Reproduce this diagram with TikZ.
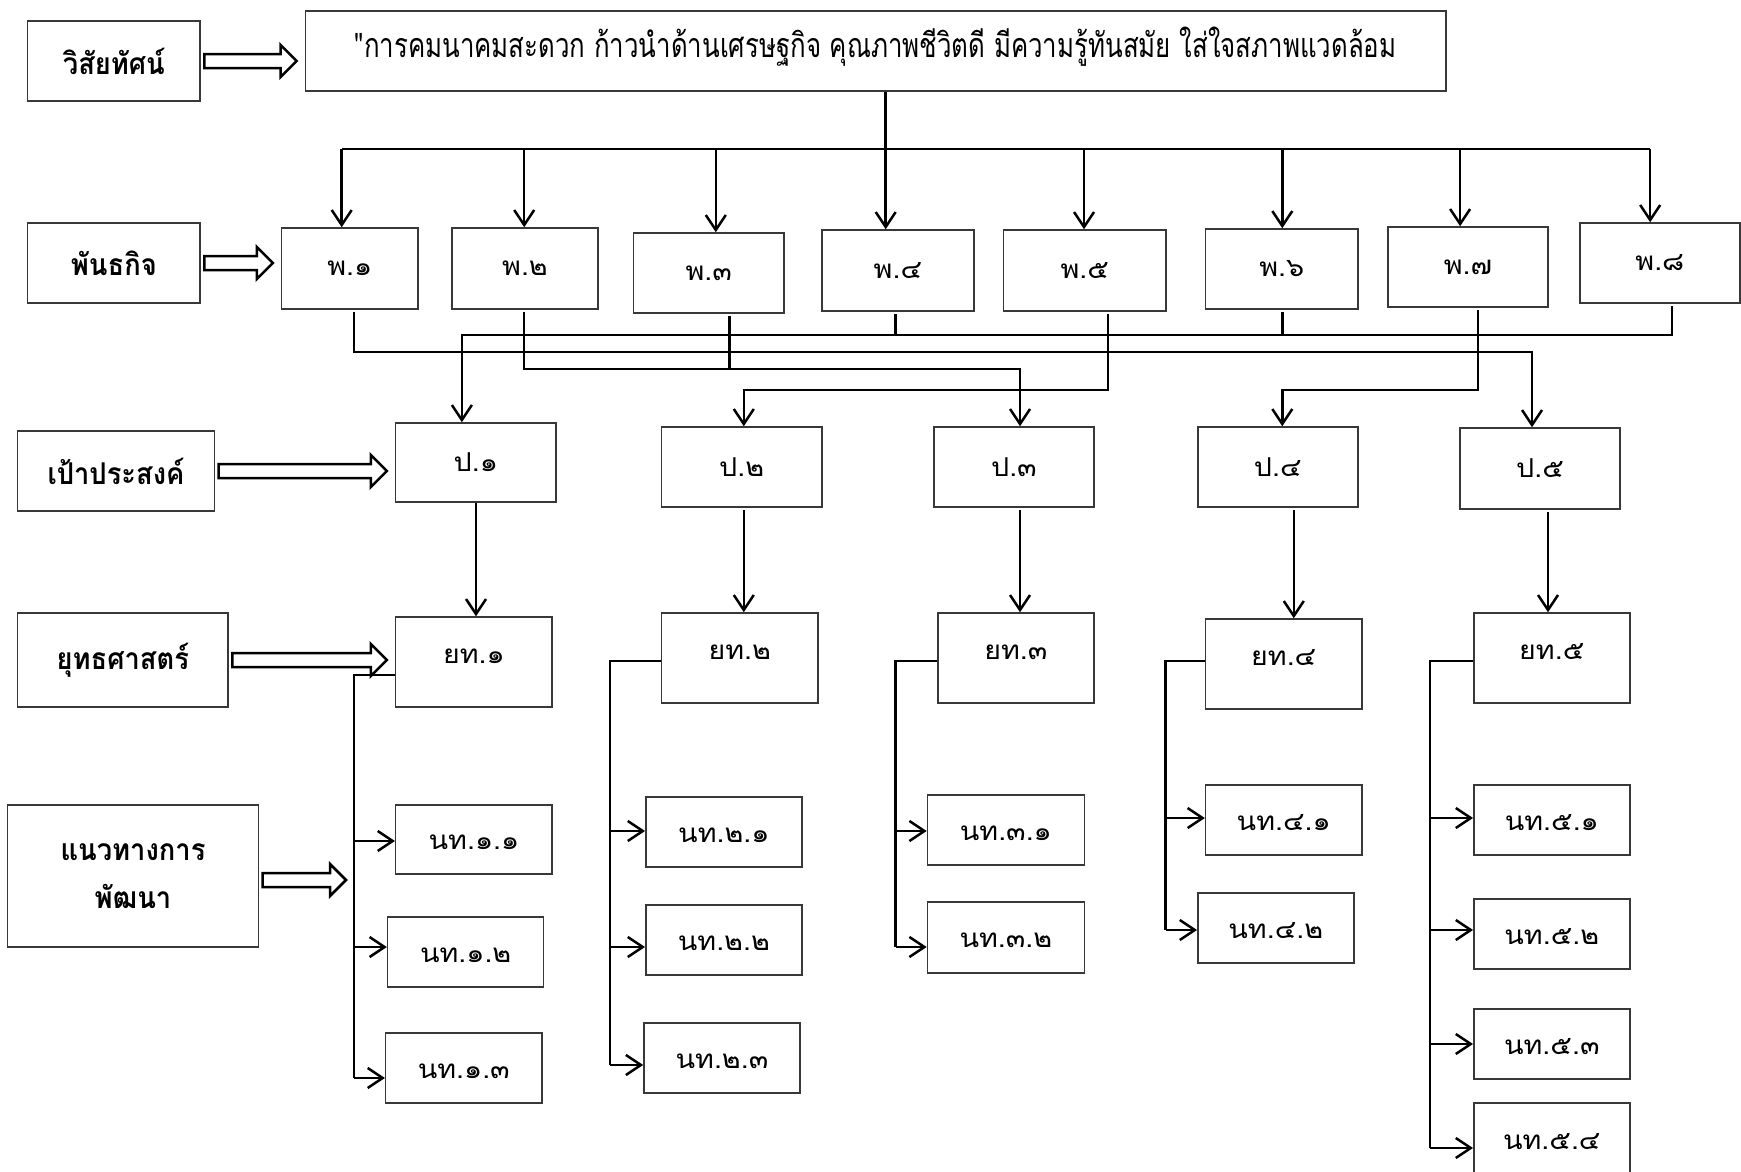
\documentclass[tikz,border=0pt]{standalone}
\usepackage{fontspec}
\newfontfamily\thaifont[Script=Thai, FakeStretch=1.1]{Loma}
\newfontfamily\visfont[Script=Thai, FakeStretch=0.76]{Loma}
\newfontfamily\hdfont[Script=Thai, FakeStretch=0.91]{Loma}
\usetikzlibrary{arrows.meta,calc}
\tikzset{
  box/.style={draw=black!78, line width=1.5pt, inner sep=0pt, fill=white,
    font=\thaifont\fontsize{26}{30}\selectfont},
  pbox/.style={box},
  ybox/.style={box, text height=15pt, text depth=12.4pt},
  vbox/.style={box, font=\visfont\fontsize{34}{40}\selectfont, text height=31pt, text depth=18pt},
  nbox/.style={box, text height=21pt, text depth=0.4pt},
  lbl/.style={box, align=center, font=\hdfont\bfseries\fontsize{30}{48}\selectfont},
  conn/.style={line width=2.5pt, black},
  arr/.style={conn, -{Straight Barb[length=15pt,width=20pt,line width=2.5pt]}},
  blockarrow/.style={draw=black, line width=2.5pt, fill=white, line join=miter,
    to path={let \p1=(\tikztostart), \p2=(\tikztotarget) in
      (\x1+3.5pt,\y1+7pt) -- (\x2-24pt,\y1+7pt) -- (\x2-24pt,\y1+16pt) -- (\x2-8pt,\y1)
      -- (\x2-24pt,\y1-16pt) -- (\x2-24pt,\y1-7pt) -- (\x1+3.5pt,\y1-7pt) -- cycle}},
}
\begin{document}
\begin{tikzpicture}[x=1pt,y=-1pt]
\fill[white] (0,0) rectangle (1741,1171);
\useasboundingbox (0,0) rectangle (1741,1171);

% left labels
\node[lbl, minimum width=172.5, minimum height=80] (lvis) at (113.9,61) {วิสัยทัศน์};
\node[lbl, minimum width=172.5, minimum height=80] (lmis) at (113.9,263) {พันธกิจ};
\node[lbl, minimum width=196.7, minimum height=80] (lgoal) at (115.95,471) {เป้าประสงค์};
\node[lbl, minimum width=210.5, minimum height=94] (lstr) at (122.85,660) {ยุทธศาสตร์};
\node[lbl, minimum width=250.6, minimum height=142] (ldev) at (133,876) {แนวทางการ\\พัฒนา};

% vision
\node[vbox, minimum width=1140.6, minimum height=80] (vision) at (875.7,51)
  {"การคมนาคมสะดวก ก้าวนำด้านเศรษฐกิจ คุณภาพชีวิตดี มีความรู้ทันสมัย ใส่ใจสภาพแวดล้อม};

% missions
\node[pbox, minimum width=136.3, minimum height=81] (p1) at (349.8,268.5) {พ.๑};
\node[pbox, minimum width=146.2, minimum height=81] (p2) at (525,268.5) {พ.๒};
\node[pbox, minimum width=150.4, minimum height=80] (p3) at (708.8,273) {พ.๓};
\node[pbox, minimum width=152.3, minimum height=81] (p4) at (897.95,270.5) {พ.๔};
\node[pbox, minimum width=162.3, minimum height=81] (p5) at (1084.75,270.5) {พ.๕};
\node[pbox, minimum width=152.3, minimum height=80] (p6) at (1281.75,269) {พ.๖};
\node[pbox, minimum width=160.1, minimum height=80] (p7) at (1467.95,267) {พ.๗};
\node[pbox, minimum width=160.1, minimum height=80] (p8) at (1659.85,263) {พ.๘};

% goals
\node[pbox, minimum width=160.3, minimum height=79] (o1) at (475.85,462.5) {ป.๑};
\node[pbox, minimum width=160.3, minimum height=80] (o2) at (741.65,467) {ป.๒};
\node[pbox, minimum width=159.9, minimum height=80] (o3) at (1013.95,467) {ป.๓};
\node[pbox, minimum width=160.1, minimum height=80] (o4) at (1277.85,467) {ป.๔};
\node[pbox, minimum width=160.4, minimum height=81] (o5) at (1540,468.5) {ป.๕};

% strategies
\node[ybox, minimum width=156.5, minimum height=90] (y1) at (473.95,662) {ยท.๑};
\node[ybox, minimum width=156.5, minimum height=90] (y2) at (739.75,658) {ยท.๒};
\node[ybox, minimum width=156.1, minimum height=90] (y3) at (1015.85,658) {ยท.๓};
\node[ybox, minimum width=156.3, minimum height=90] (y4) at (1283.75,664) {ยท.๔};
\node[ybox, minimum width=156, minimum height=90] (y5) at (1551.8,658) {ยท.๕};

% guidelines
\node[nbox, minimum width=156.5, minimum height=69] (n11) at (473.95,839.5) {นท.๑.๑};
\node[nbox, minimum width=156.1, minimum height=70] (n12) at (465.65,952) {นท.๑.๒};
\node[nbox, minimum width=156.1, minimum height=70] (n13) at (463.75,1068) {นท.๑.๓};
\node[nbox, minimum width=156.1, minimum height=70] (n21) at (723.85,832) {นท.๒.๑};
\node[nbox, minimum width=156.1, minimum height=70] (n22) at (723.85,940) {นท.๒.๒};
\node[nbox, minimum width=156.1, minimum height=70] (n23) at (721.95,1058) {นท.๒.๓};
\node[nbox, minimum width=156.9, minimum height=70] (n31) at (1005.85,830) {นท.๓.๑};
\node[nbox, minimum width=156.9, minimum height=71] (n32) at (1005.85,937.5) {นท.๓.๒};
\node[nbox, minimum width=156.3, minimum height=70] (n41) at (1283.75,820) {นท.๔.๑};
\node[nbox, minimum width=156, minimum height=70] (n42) at (1275.8,928) {นท.๔.๒};
\node[nbox, minimum width=156, minimum height=70] (n51) at (1551.8,820) {นท.๕.๑};
\node[nbox, minimum width=156, minimum height=70] (n52) at (1551.8,934) {นท.๕.๒};
\node[nbox, minimum width=156, minimum height=70] (n53) at (1551.8,1044) {นท.๕.๓};
\node[nbox, minimum width=156, minimum height=72] (n54) at (1551.8,1139) {นท.๕.๔};

% block arrows
\draw[blockarrow] (lvis.east) to (vision.west |- lvis.east);
\draw[blockarrow] (lmis.east) to (p1.west |- lmis.east);
\draw[blockarrow] (lgoal.east) to (o1.west |- lgoal.east);
\draw[blockarrow] (lstr.east) to (y1.west |- lstr.east);
\coordinate (t1) at (354,1078);
\draw[blockarrow] ([yshift=-4pt]ldev.east) to ([yshift=-4pt]t1 |- ldev.east);

% vision -> missions
\coordinate (bus) at (885.7,149);
\draw[conn] ($(vision.south)+(10,0)$) -- (bus);
\coordinate (a1) at ($(p1.north)+(-8.1,0)$);
\coordinate (a2) at ($(p2.north)+(-0.8,0)$);
\coordinate (a3) at ($(p3.north)+(7,0)$);
\coordinate (a4) at ($(p4.north)+(-12.25,0)$);
\coordinate (a5) at ($(p5.north)+(-0.75,0)$);
\coordinate (a6) at ($(p6.north)+(0.55,0)$);
\coordinate (a7) at ($(p7.north)+(-7.85,0)$);
\coordinate (a8) at ($(p8.north)+(-9.65,0)$);
\draw[conn] (a1 |- bus) -- (a8 |- bus);
\foreach \a in {a1,a2,a3,a4,a5,a6,a7,a8} \draw[arr] (\a |- bus) -- (\a);

% missions -> goals
\coordinate (yC) at (0,335);
\coordinate (yA) at (0,352);
\coordinate (yB) at (0,369);
\coordinate (yD) at (0,390);
\coordinate (b1) at ($(p1.south)+(4.2,2)$);
\coordinate (b2) at ($(p2.south)+(-1.1,2)$);
\coordinate (b3) at ($(p3.south)+(20.8,2)$);
\coordinate (b4) at ($(p4.south)+(-2.25,2)$);
\coordinate (b5) at ($(p5.south)+(23.35,2)$);
\coordinate (b6) at ($(p6.south)+(0.55,2)$);
\coordinate (b7) at ($(p7.south)+(9.95,2)$);
\coordinate (b8) at ($(p8.south)+(12.25,2)$);
\coordinate (c1) at ($(o1.north)+(-13.95,0)$);
\coordinate (c2) at ($(o2.north)+(2.15,0)$);
\coordinate (c3) at ($(o3.north)+(6.05,0)$);
\coordinate (c4) at ($(o4.north)+(4.45,0)$);
\coordinate (c5) at ($(o5.north)+(-8,0)$);
\draw[arr] (b8) |- (c1 |- yC) -- (c1);
\draw[conn] (b4) -- (b4 |- yC);
\draw[conn] (b6) -- (b6 |- yC);
\draw[arr] (b1) |- (c5 |- yA) -- (c5);
\draw[arr] (b2) |- (c3 |- yB) -- (c3);
\draw[conn] (b3) -- (b3 |- yB);
\draw[arr] (b5) |- (c2 |- yD) -- (c2);
\draw[arr] (b7) |- (c4 |- yD) -- (c4);

% goals -> strategies
\coordinate (d1) at ($(o1.south)+(0.15,0)$);
\coordinate (d2) at ($(o2.south)+(2.15,2)$);
\coordinate (d3) at ($(o3.south)+(6.05,2)$);
\coordinate (d4) at ($(o4.south)+(15.95,2)$);
\coordinate (d5) at ($(o5.south)+(8,2)$);
\draw[arr] (d1) -- (d1 |- y1.north);
\draw[arr] (d2) -- (d2 |- y2.north);
\draw[arr] (d3) -- (d3 |- y3.north);
\draw[arr] (d4) -- (d4 |- y4.north);
\draw[arr] (d5) -- (d5 |- y5.north);

% strategies -> guidelines
\coordinate (t2) at (609.8,1065);
\coordinate (t3) at (895.7,947);
\coordinate (t4) at (1165.6,930);
\coordinate (t5) at (1429.8,1148);
\draw[conn] ($(y1.west)+(0,13)$) -| (t1);
\draw[conn] ($(y2.west)+(0,3)$) -| (t2);
\draw[conn] ($(y3.west)+(0,3)$) -| (t3);
\draw[conn] ($(y4.west)+(0,-3)$) -| (t4);
\draw[conn] ($(y5.west)+(0,3)$) -| (t5);
\foreach \n/\t/\d in {n11/t1/1.5, n12/t1/-5, n13/t1/10,
    n21/t2/-1, n22/t2/7, n23/t2/7,
    n31/t3/1, n32/t3/9.5,
    n41/t4/-2, n42/t4/2,
    n51/t5/-2, n52/t5/-4, n53/t5/0, n54/t5/9}
  \draw[arr] ($(\n.west -| \t)+(0,\d)$) -- ($(\n.west)+(0,\d)$);
\end{tikzpicture}
\end{document}
